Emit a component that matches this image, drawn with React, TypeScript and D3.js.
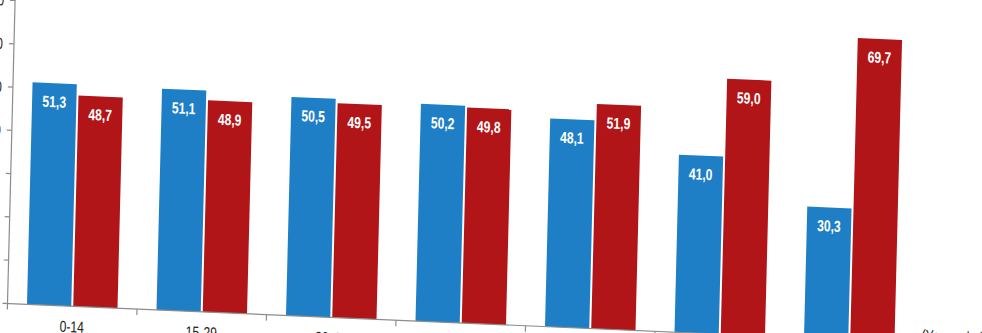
import React from "react";
import * as d3 from "d3";

const categories = ["0-14", "15-29", "30-44", "45-59", "60-74", "75-89", "90+"];
const series = ["Erkek", "Kadın"];
const maleValues = [51.3, 51.1, 50.5, 50.2, 48.1, 41.0, 30.3];
const femaleValues = [48.7, 48.9, 49.5, 49.8, 51.9, 59.0, 69.7];
const yTicks = [0, 10, 20, 30, 40, 50, 60, 70];
const axisTitle = "(Yaş grubu)";

const W = 982;
const H = 333;
const COLORS = ["#1f7fc6", "#b11517"];
const FONT = "'Liberation Sans', Arial, sans-serif";
const SX = 0.76;

const fmt = (v: number) => v.toFixed(1).replace(".", ",");

function NText(props: {
  x: number;
  y: number;
  anchor?: "start" | "middle" | "end";
  size?: number;
  weight?: string;
  fill?: string;
  dy?: string;
  children: React.ReactNode;
}) {
  const { x, y, anchor = "middle", size = 16, weight = "normal", fill = "#222", dy, children } = props;
  return (
    <text
      transform={`translate(${x},${y}) scale(${SX},1)`}
      textAnchor={anchor}
      fontSize={size}
      fontWeight={weight}
      fill={fill}
      dy={dy}
    >
      {children}
    </text>
  );
}

export default function App() {
  const x = d3.scaleBand<string>().domain(categories).range([0, 906.5]).paddingInner(0).paddingOuter(0);
  const inner = d3
    .scaleBand<string>()
    .domain(series)
    .range([-45.25, 45.25])
    .paddingInner(0.043)
    .paddingOuter(0);
  const y = d3.scaleLinear().domain([0, 70]).range([0, -303]);

  const data = categories.map((c, i) => ({ c, vals: [maleValues[i], femaleValues[i]] }));

  return (
    <svg
      width={W}
      height={H}
      style={{ position: "absolute", left: 0, top: 0, background: "#fff" }}
      fontFamily={FONT}
    >
      <g transform="matrix(1,0.043,-0.025,1,7.5,303.5)">
        {/* y axis */}
        <line x1={0} x2={0} y1={0} y2={y(70) - 2} stroke="#8c8c8c" strokeWidth={1.2} />
        {yTicks.map((t) => (
          <g key={t}>
            <line x1={-5} x2={0} y1={y(t)} y2={y(t)} stroke="#8c8c8c" strokeWidth={1.2} />
            <NText x={-11} y={y(t)} dy="0.35em" anchor="end">
              {t}
            </NText>
          </g>
        ))}
        {/* bars */}
        {data.map((d) => (
          <g key={d.c} transform={`translate(${(x(d.c) ?? 0) + x.bandwidth() / 2},0)`}>
            {d.vals.map((v, j) => {
              const bx = inner(series[j]) ?? 0;
              const bw = inner.bandwidth();
              return (
                <g key={j}>
                  <rect x={bx} y={y(v)} width={bw} height={-y(v)} fill={COLORS[j]} />
                  <NText x={bx + bw / 2} y={y(v) + 24} weight="bold" fill="#fff">
                    {fmt(v)}
                  </NText>
                </g>
              );
            })}
          </g>
        ))}
        {/* x axis */}
        <line x1={-4} x2={x.range()[1] + 4} y1={0} y2={0} stroke="#8c8c8c" strokeWidth={1.2} />
        {categories.map((c) => (
          <line
            key={"t" + c}
            x1={x(c) ?? 0}
            x2={x(c) ?? 0}
            y1={0}
            y2={6}
            stroke="#8c8c8c"
            strokeWidth={1.2}
          />
        ))}
        {categories.map((c) => (
          <NText key={"l" + c} x={(x(c) ?? 0) + x.bandwidth() / 2} y={26}>
            {c}
          </NText>
        ))}
        <NText x={914} y={-2} anchor="start">
          {axisTitle}
        </NText>
      </g>
    </svg>
  );
}
